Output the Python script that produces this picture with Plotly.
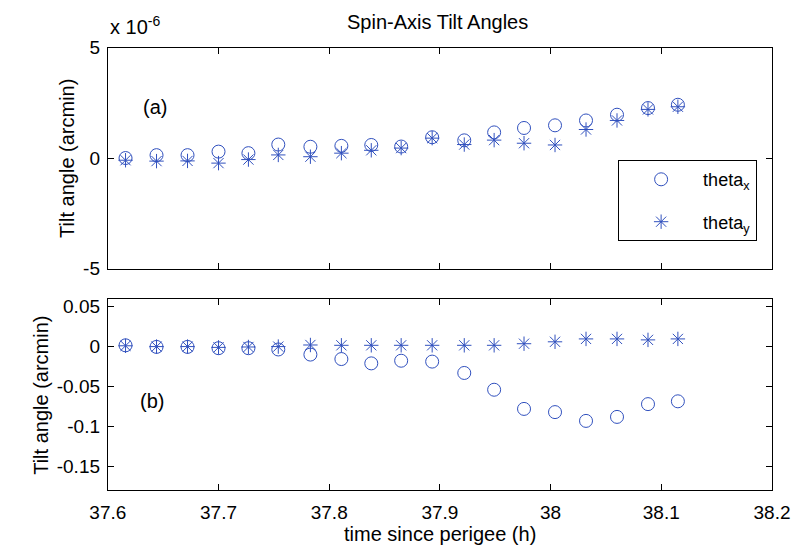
import plotly.graph_objects as go

# ---- data ----
time_h = [37.616, 37.644, 37.672, 37.700, 37.727, 37.754, 37.783, 37.811, 37.838, 37.865,
          37.893, 37.922, 37.949, 37.976, 38.004, 38.032, 38.060, 38.088, 38.115]

# panel (a): units of 1e-6 arcmin
theta_x_a = [0.00, 0.13, 0.13, 0.29, 0.22, 0.61, 0.51, 0.55, 0.59, 0.52,
             0.94, 0.80, 1.16, 1.36, 1.48, 1.70, 1.96, 2.26, 2.41]
theta_y_a = [-0.10, -0.14, -0.13, -0.23, -0.07, 0.14, 0.06, 0.22, 0.35, 0.45,
             0.90, 0.61, 0.81, 0.67, 0.59, 1.29, 1.70, 2.20, 2.32]

# panel (b): arcmin
theta_x_b = [0.0016, -0.0004, -0.0004, -0.002, -0.002, -0.0036, -0.010, -0.0156, -0.021, -0.0177,
             -0.0188, -0.033, -0.054, -0.078, -0.082, -0.093, -0.088, -0.072, -0.0685]
theta_y_b = [0.001, 0.0, 0.0, -0.001, -0.0005, 0.0, 0.002, 0.0016, 0.0016, 0.0016,
             0.0016, 0.0016, 0.0016, 0.0036, 0.006, 0.0096, 0.0096, 0.0084, 0.0096]

xticks = [37.6, 37.7, 37.8, 37.9, 38.0, 38.1, 38.2]
xticklabels = ["37.6", "37.7", "37.8", "37.9", "38", "38.1", "38.2"]
yticks_a = [-5, 0, 5]
yticklabels_a = ["-5", "0", "5"]
yticks_b = [0.05, 0, -0.05, -0.1, -0.15]
yticklabels_b = ["0.05", "0", "-0.05", "-0.1", "-0.15"]

BLUE = "#3050BE"
FONT = "Liberation Sans, Arial, sans-serif"
TICK = 19
LAB = 20

fig = go.Figure()
fig.add_trace(go.Scatter(x=time_h, y=theta_x_a, mode="markers", name="theta<sub>x</sub>",
                         marker=dict(symbol="circle-open", size=13, color=BLUE, line=dict(width=1)),
                         xaxis="x", yaxis="y", legendgroup="a"))
fig.add_trace(go.Scatter(x=time_h, y=theta_y_a, mode="markers", name="theta<sub>y</sub>",
                         marker=dict(symbol="asterisk-open", size=12, color=BLUE, line=dict(width=1, color=BLUE)),
                         xaxis="x", yaxis="y", legendgroup="b"))
fig.add_trace(go.Scatter(x=time_h, y=theta_x_b, mode="markers", showlegend=False,
                         marker=dict(symbol="circle-open", size=13, color=BLUE, line=dict(width=1)),
                         xaxis="x2", yaxis="y2"))
fig.add_trace(go.Scatter(x=time_h, y=theta_y_b, mode="markers", showlegend=False,
                         marker=dict(symbol="asterisk-open", size=12, color=BLUE, line=dict(width=1, color=BLUE)),
                         xaxis="x2", yaxis="y2"))

axis_common = dict(showline=True, linecolor="black", linewidth=1, mirror="allticks",
                   ticks="inside", ticklen=6, tickcolor="black", showgrid=False, zeroline=False,
                   tickfont=dict(family=FONT, size=TICK, color="black"))

W, H = 811, 555
xd = [94 / W, 789 / W]
fig.update_layout(
    width=W, height=H, margin=dict(l=0, r=0, t=0, b=0),
    paper_bgcolor="white", plot_bgcolor="white",
    font=dict(family=FONT, size=LAB, color="black"),
    xaxis=dict(domain=xd, range=[37.6, 38.2], tickvals=xticks, showticklabels=False,
               anchor="y", **axis_common),
    yaxis=dict(domain=[1 - 268.7 / H, 1 - 39 / H], range=[-5, 5], tickvals=yticks_a,
               ticktext=yticklabels_a, anchor="x", ticklabelstandoff=3, **axis_common),
    xaxis2=dict(domain=xd, range=[37.6, 38.2], tickvals=xticks, ticktext=xticklabels,
                anchor="y2", ticklabelstandoff=5, **axis_common),
    yaxis2=dict(domain=[1 - 499.3 / H, 1 - 300 / H], range=[-0.18, 0.06], tickvals=yticks_b,
                ticktext=yticklabels_b, anchor="x2", ticklabelstandoff=3, **axis_common),
    legend=dict(x=628 / W, y=1 - 156 / H, xanchor="left", yanchor="top",
                bgcolor="white", bordercolor="black", borderwidth=1,
                font=dict(family=FONT, size=18, color="black"), tracegroupgap=16, itemwidth=74),
    showlegend=True,
)

annotations = [
    dict(text="Spin-Axis Tilt Angles", x=439 / W, y=1 - 12 / H, xref="paper", yref="paper",
         showarrow=False, font=dict(size=LAB), xanchor="center", yanchor="middle"),
    dict(text="x 10<sup>-6</sup>", x=94 / W, y=1 - 16 / H, xref="paper", yref="paper",
         showarrow=False, font=dict(size=LAB), xanchor="left", yanchor="middle"),
    dict(text="(a)", x=143 / W, y=1 - 101 / H, xref="paper", yref="paper",
         showarrow=False, font=dict(size=LAB), xanchor="center", yanchor="middle"),
    dict(text="(b)", x=140 / W, y=1 - 406 / H, xref="paper", yref="paper",
         showarrow=False, font=dict(size=LAB), xanchor="center", yanchor="middle"),
    dict(text="Tilt angle (arcmin)", x=51 / W, y=1 - 154 / H, xref="paper", yref="paper",
         showarrow=False, font=dict(size=LAB), textangle=-90, xanchor="center", yanchor="middle"),
    dict(text="Tilt angle (arcmin)", x=24 / W, y=1 - 400 / H, xref="paper", yref="paper",
         showarrow=False, font=dict(size=LAB), textangle=-90, xanchor="center", yanchor="middle"),
    dict(text="time since perigee (h)", x=442 / W, y=1 - 545 / H, xref="paper", yref="paper",
         showarrow=False, font=dict(size=LAB), xanchor="center", yanchor="middle"),
]
fig.update_layout(annotations=annotations)

fig.write_html("out.html")
